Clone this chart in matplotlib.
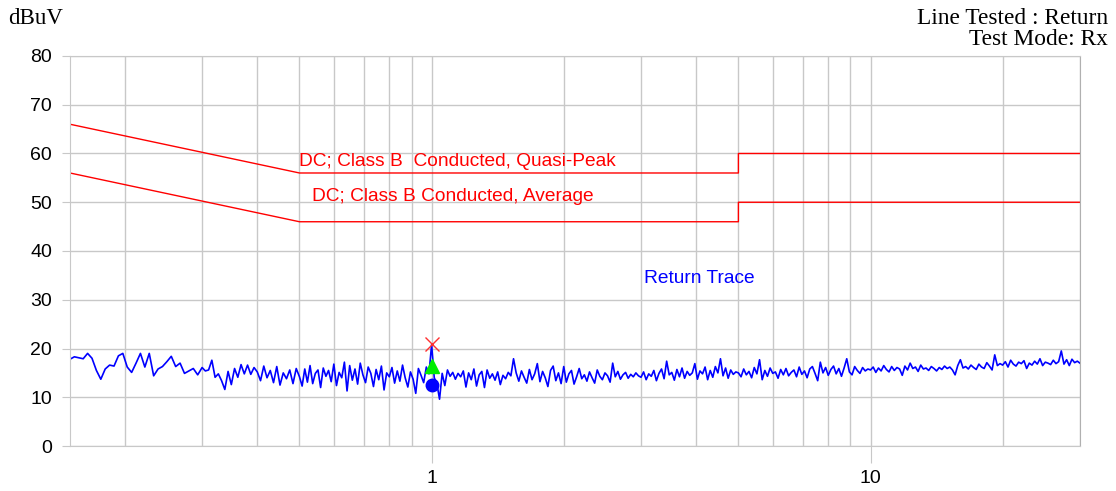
import numpy as np
import matplotlib.pyplot as plt
from matplotlib.ticker import FixedLocator, NullFormatter

plt.rcParams['font.family'] = ['Liberation Sans', 'DejaVu Sans']

# limit lines (MHz, dBuV)
qp_freq = [0.15, 0.5, 5.0, 5.0, 30.0]
qp_level = [66, 56, 56, 60, 60]
avg_freq = [0.15, 0.5, 5.0, 5.0, 30.0]
avg_level = [56, 46, 46, 50, 50]

band_edges = [0.15, 0.3, 0.5, 1.0, 2.0, 3.0, 5.0, 10.0, 20.0, 30.0]
lvl_015_03 = [17.8, 18.3, 18.1, 17.9, 19.0, 18.0, 15.5, 13.7, 15.8, 16.6,
              16.4, 18.5, 19.0, 16.2, 15.1, 17.0, 19.0, 16.2, 19.0, 14.4,
              15.8, 16.3, 17.3, 18.4, 16.3, 17.0, 14.9, 15.4, 15.9, 14.6]
lvl_03_05 = [16.1, 15.4, 15.6, 17.6, 14.1, 14.8, 13.4, 11.6, 15.3, 12.6,
             15.9, 14.1, 16.7, 14.8, 16.6, 14.7, 16.1, 15.2, 13.4, 16.4,
             14.0, 15.5, 13.0, 16.3, 12.5, 15.0, 13.8, 15.6, 12.8, 15.9]
lvl_05_1 = [14.2, 12.3, 15.8, 13.1, 16.5, 12.8, 14.9, 15.6, 12.0, 16.0,
            14.3, 15.5, 13.2, 16.8, 12.4, 15.1, 14.0, 17.2, 11.3, 16.5,
            13.5, 15.8, 12.7, 17.0, 14.6, 13.0, 16.2, 14.9, 12.2, 15.7,
            13.6, 16.4, 11.5, 15.0, 14.2, 16.1, 12.9, 15.4, 13.3, 16.6,
            14.0, 12.1, 15.2, 13.7, 10.8, 15.9, 14.5, 13.0, 16.2, 14.8]
lvl_1_2 = [20.8, 14.0, 12.8, 9.6, 14.9, 12.4, 15.6, 14.3, 15.1, 13.7,
           14.9, 14.2, 15.4, 12.1, 15.0, 13.6, 15.8, 12.3, 14.6, 15.3,
           12.0, 15.6, 13.9, 14.8, 13.5, 15.2, 12.6, 14.5, 13.8, 15.1,
           14.4, 17.9, 15.0, 13.3, 15.4, 14.1, 12.9, 15.7, 13.6, 14.8,
           16.9, 13.2, 15.3, 14.0, 12.2, 15.5, 16.4, 13.4, 15.0, 12.8]
lvl_2_3 = [16.3, 13.1, 14.8, 15.5, 12.7, 14.2, 15.9, 13.8, 14.6, 13.3,
           15.2, 14.0, 12.9, 15.6, 14.3, 13.6, 15.0, 14.4, 13.1, 17.0,
           14.2, 15.3, 13.7, 14.6, 15.1, 13.9, 14.7, 14.2, 15.0, 14.4]
lvl_3_5 = [14.1, 15.2, 13.6, 14.8, 14.3, 15.5, 13.4, 14.9, 15.8, 13.8,
           17.4, 14.6, 15.1, 13.5, 15.7, 14.2, 16.0, 13.9, 15.3, 14.5,
           15.0, 16.9, 13.7, 15.4, 14.8, 16.2, 13.6, 15.5, 14.1, 16.3,
           15.0, 17.9, 14.4, 16.0, 13.9, 15.6, 14.7, 15.2]
lvl_5_10 = [15.0, 14.2, 15.8, 14.6, 15.3, 14.0, 16.1, 14.8, 17.7, 13.6,
            15.5, 14.3, 16.0, 14.9, 15.2, 13.9, 15.7, 14.6, 15.9, 14.4,
            15.1, 15.6, 14.2, 16.2, 14.7, 15.4, 14.0, 15.8, 16.3, 14.9,
            13.4, 17.2, 15.0, 16.1, 14.5, 15.7, 16.4, 14.8, 15.9, 14.3,
            16.0, 17.9, 15.2, 14.6, 16.3, 15.5, 14.9, 16.1, 15.4, 15.8]
lvl_10_20 = [15.6, 16.2, 15.1, 16.0, 15.4, 16.5, 15.7, 15.2, 16.3, 15.5,
             16.1, 15.8, 14.5, 16.4, 15.6, 17.0, 15.9, 16.2, 15.3, 16.6,
             15.8, 16.0, 15.5, 16.3, 15.9, 15.4, 16.1, 15.7, 16.4, 15.9,
             16.2, 15.6, 14.6, 16.5, 17.7, 16.0, 16.3, 15.8, 16.6, 16.1,
             15.7, 16.8, 16.2, 15.9, 17.1, 16.4, 15.6, 18.7, 16.5, 16.9]
lvl_20_30 = [16.6, 17.3, 16.2, 17.6, 16.8, 16.4, 17.2, 16.9, 17.5, 15.9,
             17.0, 16.6, 17.4, 16.8, 17.9, 16.5, 17.2, 17.0, 16.7, 17.6,
             16.9, 17.3, 19.5, 16.8, 17.7, 16.5, 17.8, 17.1, 17.4, 17.0]
band_levels = [lvl_015_03, lvl_03_05, lvl_05_1, lvl_1_2, lvl_2_3,
               lvl_3_5, lvl_5_10, lvl_10_20, lvl_20_30]

# markers at the 1 MHz spike
mark_freq = 1.0
mark_peak = 21.0
mark_qp = 16.5
mark_avg = 12.6

grid_x = [0.2, 0.3, 0.4, 0.5, 0.6, 0.7, 0.8, 0.9, 1, 2, 3, 4, 5, 6, 7, 8, 9, 10, 20, 30]


def sweep():
    freqs, levels = [], []
    n = len(band_levels)
    for i, lv in enumerate(band_levels):
        last = i == n - 1
        f = np.geomspace(band_edges[i], band_edges[i + 1], len(lv), endpoint=last)
        freqs.extend(f)
        levels.extend(lv)
    return np.array(freqs), np.array(levels)


def main():
    fig = plt.figure(figsize=(11.16, 4.91), dpi=100)
    ax = fig.add_axes([0.0627, 0.0916, 0.905, 0.7944])
    ax.set_xscale('log')
    ax.set_xlim(0.15, 30)
    ax.set_ylim(0, 80)

    gc = '#c8c8c8'
    ax.xaxis.set_major_locator(FixedLocator([1, 10]))
    ax.xaxis.set_minor_locator(FixedLocator(grid_x))
    ax.xaxis.set_major_formatter(plt.FixedFormatter(['1', '10']))
    ax.xaxis.set_minor_formatter(NullFormatter())
    ax.set_yticks(range(0, 81, 10))
    ax.grid(True, which='both', axis='x', color=gc, lw=1)
    ax.grid(True, which='major', axis='y', color=gc, lw=1)
    ax.tick_params(axis='x', which='major', length=12, color=gc, pad=5, labelsize=14)
    ax.tick_params(axis='x', which='minor', length=0)
    ax.tick_params(axis='y', length=6, color=gc, pad=7, labelsize=14)
    for s in ax.spines.values():
        s.set_color(gc)
    ax.spines['right'].set_color('#b0b0b0')
    ax.set_axisbelow(True)

    ax.plot(qp_freq, qp_level, color='#ff0000', lw=1)
    ax.plot(avg_freq, avg_level, color='#ff0000', lw=1)

    f, lv = sweep()
    ax.plot(f, lv, color='#0000ff', lw=1.2)

    ax.plot(mark_freq, mark_peak, 'x', color='#ff3030', ms=10, mew=1)
    ax.plot(mark_freq, mark_qp, '^', color='#00ee00', ms=10)
    ax.plot(mark_freq, mark_avg, 'o', color='#0000ff', ms=9)

    ax.text(0.5, 58.3, 'DC; Class B  Conducted, Quasi-Peak', color='#ff0000',
            fontsize=13.8, ha='left', va='center')
    ax.text(0.535, 51.1, 'DC; Class B Conducted, Average', color='#ff0000',
            fontsize=13.8, ha='left', va='center')
    ax.text(3.05, 34.3, 'Return Trace', color='#0000ff', fontsize=13.8,
            ha='left', va='center')

    fig.text(0.007, 0.963, 'dBuV', family='Liberation Serif', fontsize=16.5,
             ha='left', va='center')
    fig.text(0.993, 0.963, 'Line Tested : Return', family='Liberation Serif',
             fontsize=16.8, ha='right', va='center')
    fig.text(0.993, 0.919, 'Test Mode: Rx', family='Liberation Serif',
             fontsize=16.8, ha='right', va='center')

    plt.savefig('out.png')


if __name__ == '__main__':
    main()
